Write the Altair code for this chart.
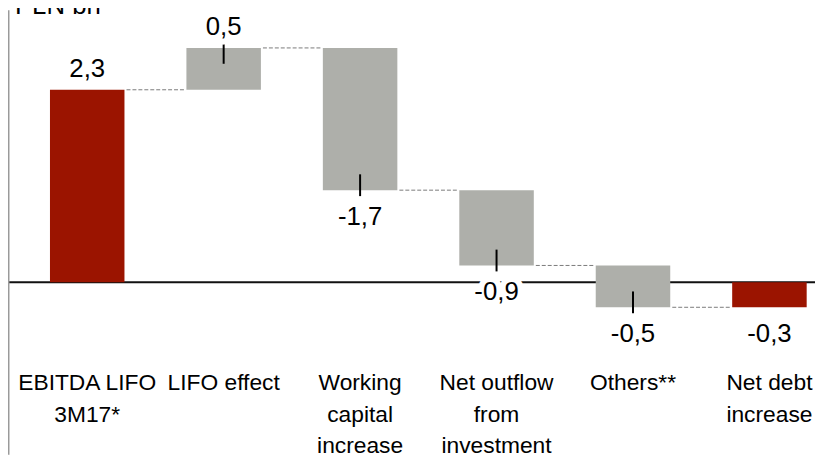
import altair as alt
import pandas as pd

# ---- data ----
categories = ["EBITDA LIFO\n3M17*", "LIFO effect", "Working\ncapital\nincrease",
              "Net outflow\nfrom\ninvestment", "Others**", "Net debt\nincrease"]
values = [2.3, 0.5, -1.7, -0.9, -0.5, -0.3]
kinds = ["total", "delta", "delta", "delta", "delta", "total"]
unit_label = "PLN bn"

RED = "#9B1400"
GRAY = "#AEAFAA"
FONT = "Liberation Sans"
HALF = 0.273  # half bar width in category units

W, H = 815, 449
yscale = alt.Scale(domain=[-2.063, 3.251], zero=False, nice=False, padding=0)
xscale = alt.Scale(domain=[-0.5806, 5.334], zero=False, nice=False, padding=0)

rows = []
cum = 0.0
for i, (c, v, k) in enumerate(zip(categories, values, kinds)):
    if k == "total":
        start, end = 0.0, v
        cum = v
    else:
        start, end = cum, cum + v
        cum = cum + v
    rows.append(dict(i=i, cat=c, value=v, kind=k, start=round(start, 3), end=round(end, 3),
                     xs=i - HALF, xe=i + HALF,
                     label=f"{v:.1f}".replace(".", ","),
                     sign="pos" if v > 0 else "neg"))
df = pd.DataFrame(rows)

conn = pd.DataFrame([dict(x1=r["i"] + HALF + 0.015, x2=r["i"] + 1 - HALF - 0.015, level=r["end"])
                     for r in rows[:-1]])

X = lambda f: alt.X(f, scale=xscale, axis=None)
Y = lambda f: alt.Y(f, scale=yscale, axis=None)

base = alt.Chart(df)

zero = alt.Chart(pd.DataFrame({"z": [0.0]})).mark_rule(color="#111111", strokeWidth=2).encode(
    y=Y("z:Q"))

border = alt.Chart(pd.DataFrame({"z": [0.0]})).mark_rule(color="#9a9a9a", strokeWidth=1.5).encode(
    x=alt.value(0.75))

bars = base.mark_bar().encode(
    x=X("xs:Q"), x2="xe:Q",
    y=Y("start:Q"), y2="end:Q",
    color=alt.Color("kind:N", scale=alt.Scale(domain=["total", "delta"], range=[RED, GRAY]), legend=None),
)

connectors = alt.Chart(conn).mark_rule(color="#7a7a7a", strokeWidth=1, strokeDash=[4, 2]).encode(
    x=X("x1:Q"), x2="x2:Q", y=Y("level:Q"))

tick_pos = base.transform_filter("datum.kind == 'delta' && datum.value > 0").mark_tick(
    orient="vertical", size=22, thickness=2, color="black", yOffset=5, opacity=1).encode(
    x=X("i:Q"), y=Y("end:Q"))
tick_neg = base.transform_filter("datum.kind == 'delta' && datum.value < 0").mark_tick(
    orient="vertical", size=22, thickness=2, color="black", yOffset=-5, opacity=1).encode(
    x=X("i:Q"), y=Y("end:Q"))

layers = [zero, border, bars, connectors, tick_pos, tick_neg]
for sign, dy in (("pos", -21), ("neg", 27)):
    d = base.transform_filter(f"datum.sign == '{sign}'")
    layers.append(d.mark_text(font=FONT, fontSize=26, dy=dy, baseline="middle", stroke="white",
                              strokeWidth=12, strokeJoin="round", fill="white").encode(
        x=X("i:Q"), y=Y("end:Q"), text="label:N"))
    layers.append(d.mark_text(font=FONT, fontSize=26, dy=dy, baseline="middle", color="black").encode(
        x=X("i:Q"), y=Y("end:Q"), text="label:N"))

cat_labels = base.mark_text(font=FONT, fontSize=23, lineBreak="\n", lineHeight=31.5,
                            baseline="alphabetic", align="center", color="black").encode(
    x=X("i:Q"), y=alt.value(384), text="cat:N")
layers.append(cat_labels)

unit = alt.Chart(pd.DataFrame({"t": [unit_label]})).mark_text(
    font=FONT, fontSize=26, align="left", baseline="alphabetic", color="black").encode(
    x=alt.value(7), y=alt.value(4), text="t:N")
layers.append(unit)

chart = alt.layer(*layers).properties(
    width=W, height=H, autosize=alt.AutoSizeParams(type="none"), padding=0, background="white"
).configure_view(strokeWidth=0)

chart.save("out.html", embed_options={"renderer": "svg", "actions": False})
